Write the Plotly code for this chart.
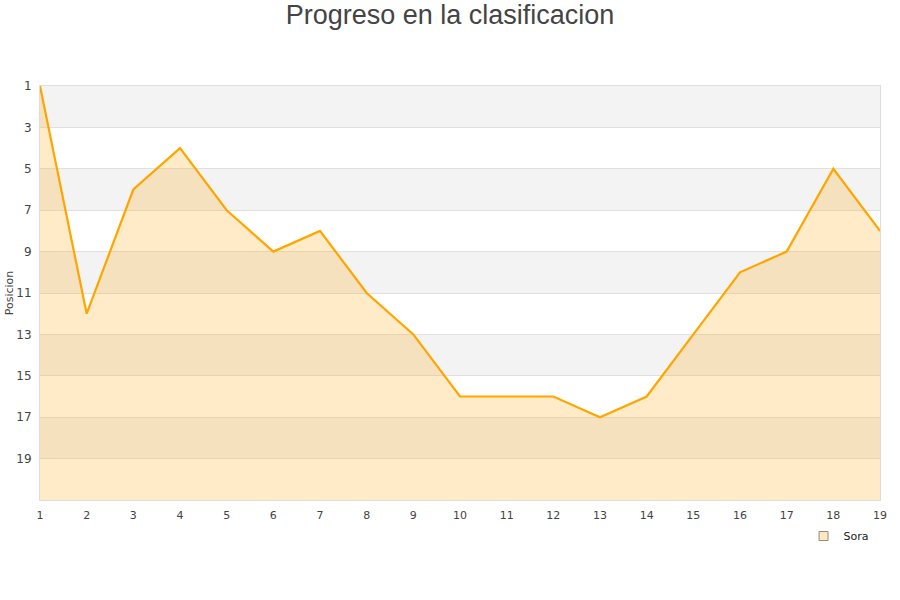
import plotly.graph_objects as go

jornadas = list(range(1, 20))
posiciones = [1, 12, 6, 4, 7, 9, 8, 11, 13, 16, 16, 16, 17, 16, 13, 10, 9, 5, 8]
y_ticks = list(range(1, 21, 2))
band_starts = [1, 5, 9, 13, 17]
y_min, y_max = 1, 21

fig = go.Figure()
fig.add_trace(go.Scatter(x=jornadas, y=[y_max] * len(jornadas), mode="lines",
                         line=dict(width=0), showlegend=False, hoverinfo="skip"))
fig.add_trace(go.Scatter(x=jornadas, y=posiciones, mode="lines", name="Sora",
                         line=dict(color="#ffa500", width=2.2), showlegend=False,
                         fill="tonexty", fillcolor="rgba(255,165,0,0.22)"))
fig.add_trace(go.Scatter(x=[None], y=[None], mode="markers", name="Sora",
                         marker=dict(symbol="square", size=9, color="#fde8c4",
                                     line=dict(color="#9a8a70", width=1))))

for b in band_starts:
    fig.add_shape(type="rect", xref="paper", yref="y", x0=0, x1=1, y0=b, y1=b + 2,
                  fillcolor="#f3f3f3", line=dict(width=0), layer="below")

fig.update_layout(
    width=900, height=600,
    margin=dict(l=40, r=20, t=86, b=100),
    paper_bgcolor="white", plot_bgcolor="white",
    title=dict(text="Progreso en la clasificacion", x=0.5, xanchor="center",
               y=0.975, yanchor="middle",
               font=dict(family="Liberation Sans, Arial", size=27, color="#444")),
    font=dict(family="DejaVu Sans", size=11, color="#444"),
    showlegend=True,
    legend=dict(x=0.909, y=-0.087, xanchor="left", yanchor="middle",
                itemwidth=30,
                bgcolor="rgba(0,0,0,0)", font=dict(size=11, color="#222")),
    xaxis=dict(range=[1, 19], tickvals=jornadas, showgrid=False, zeroline=False,
               showline=True, linecolor="#ddd", mirror=True, automargin=False,
               ticks="outside", ticklen=5, tickcolor="rgba(0,0,0,0)",
               tickfont=dict(size=11, color="#444")),
    yaxis=dict(range=[y_max, y_min], tickvals=y_ticks, showgrid=True, automargin=False,
               gridcolor="#e0e0e0", zeroline=False, showline=True, linecolor="#ddd",
               mirror=True, ticks="outside", ticklen=5, tickcolor="rgba(0,0,0,0)",
               tickfont=dict(size=12, color="#444"),
               title=dict(text="Posicion", font=dict(size=11, color="#444"), standoff=0)),
)

fig.write_html("out.html", config={"displayModeBar": False},
               post_script="document.body.style.margin='0';document.body.style.overflow='hidden';")
